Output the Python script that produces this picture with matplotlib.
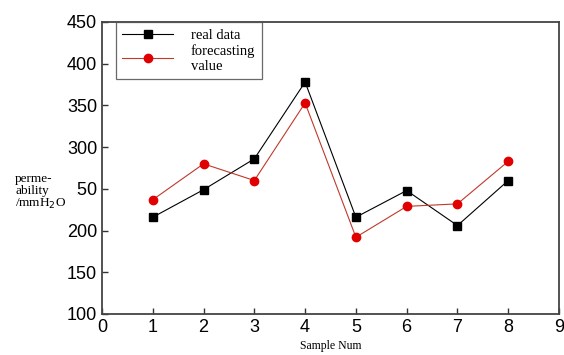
import matplotlib.pyplot as plt
from matplotlib.patches import Rectangle

samples = [1, 2, 3, 4, 5, 6, 7, 8]
real_data = [216, 249, 286, 378, 216, 248, 206, 260]
forecast = [237, 280, 260, 353, 192, 229, 232, 283]
xticks = [0, 1, 2, 3, 4, 5, 6, 7, 8, 9]
yticks = [100, 150, 200, 250, 300, 350, 400, 450]

fig = plt.figure(figsize=(5.64, 3.55), dpi=100)
ax = fig.add_axes([102/564, 41/355, 457/564, 292/355])

ax.plot(samples, real_data, color="black", lw=0.8, marker="s", ms=5.5, label="real data")
ax.plot(samples, forecast, color="#c0392b", lw=0.8, marker="o", ms=6,
        mfc="#e00000", mec="#e00000", label="forecasting\nvalue")

ax.set_xlim(0, 9)
ax.set_ylim(100, 450)
ax.set_xticks(xticks)
ax.set_yticks(yticks)
ax.tick_params(direction="in", length=4, width=1, labelsize=13, colors="#333333")
for lab in ax.get_xticklabels() + ax.get_yticklabels():
    lab.set_family("Liberation Sans")
    lab.set_color("black")
for s in ax.spines.values():
    s.set_linewidth(1.3)
    s.set_color("#444444")

leg = ax.legend(loc="upper left", bbox_to_anchor=(0.03, 1.0), borderaxespad=0,
                frameon=True, fancybox=False, edgecolor="#444444",
                prop={"family": "Liberation Serif", "size": 10.5},
                handlelength=3.5, handletextpad=1.2, labelspacing=0.15, borderpad=0.45)
leg.get_frame().set_linewidth(0.9)

ax.set_xlabel("Sample Num", family="Liberation Serif", fontsize=8.5, labelpad=3)

# white patch behind the y label (it hides part of the 250 tick label)
fig.patches.append(Rectangle((10/564, 1 - 214/355), 67/564, 44/355,
                             transform=fig.transFigure, facecolor="white",
                             edgecolor="none", zorder=5))
fig.text(15/564, 1 - 192/355, "perme-\nability\n/mmH$_2$O", family="Liberation Serif",
         fontsize=9.5, va="center", ha="left", linespacing=0.95, zorder=6)

fig.savefig("out.png", dpi=100)
